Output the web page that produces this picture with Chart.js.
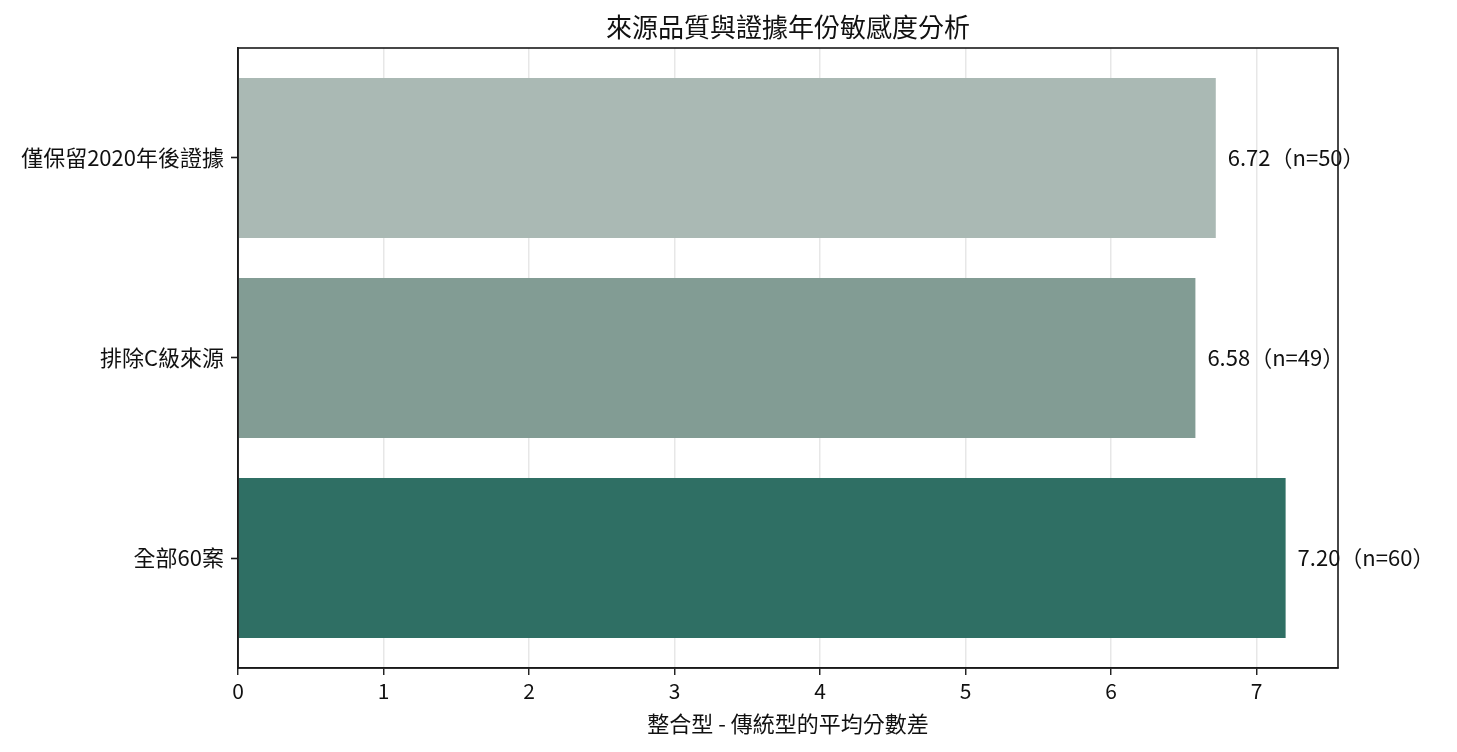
<!DOCTYPE html>
<html>
<head>
<meta charset="utf-8">
<script src="https://cdn.jsdelivr.net/npm/chart.js@4.4.1/dist/chart.umd.min.js"></script>
<style>
  html, body { margin: 0; padding: 0; background: #ffffff; }
  #wrap { width: 1457px; height: 752px; position: relative; }
</style>
</head>
<body>
<div id="wrap"><canvas id="c" width="1457" height="752"></canvas></div>
<script>
// Categories from bottom (index 0) to top
const categories = ['全部60案', '排除C級來源', '僅保留2020年後證據'];
const meanDiff = [7.20, 6.58, 6.72];
const sampleN = [60, 49, 50];
const barColors = ['#2f6f64', '#829c94', '#aab9b4'];
const xTicks = [0, 1, 2, 3, 4, 5, 6, 7];
const chartTitle = '來源品質與證據年份敏感度分析';
const xAxisTitle = '整合型 - 傳統型的平均分數差';

const FONT = '"Noto Sans CJK TC", "Noto Sans CJK SC", "Noto Sans", sans-serif';

const points = meanDiff.map((v, i) => ({ x: v, y: i }));

const valueLabels = {
  id: 'valueLabels',
  afterDraw(chart) {
    const ctx = chart.ctx;
    const meta = chart.getDatasetMeta(0);
    ctx.save();
    ctx.font = '22px ' + FONT;
    ctx.fillStyle = '#111111';
    ctx.textAlign = 'left';
    ctx.textBaseline = 'middle';
    meta.data.forEach((el, i) => {
      const txt = meanDiff[i].toFixed(2) + '（n=' + sampleN[i] + '）';
      ctx.fillText(txt, el.x + 12, el.y);
    });
    ctx.restore();
  }
};

const frameAndTitle = {
  id: 'frameAndTitle',
  afterDraw(chart) {
    const a = chart.chartArea;
    const ctx = chart.ctx;
    ctx.save();
    ctx.strokeStyle = '#1a1a1a';
    ctx.lineWidth = 1.6;
    ctx.strokeRect(a.left, a.top, a.right - a.left, a.bottom - a.top);
    ctx.font = '26px ' + FONT;
    ctx.fillStyle = '#111111';
    ctx.textAlign = 'center';
    ctx.textBaseline = 'middle';
    ctx.fillText(chartTitle, (a.left + a.right) / 2, a.top - 21);
    ctx.restore();
  }
};

new Chart(document.getElementById('c'), {
  type: 'bar',
  data: {
    datasets: [{
      data: points,
      backgroundColor: barColors,
      borderWidth: 0,
      barPercentage: 0.8,
      categoryPercentage: 1.0
    }]
  },
  options: {
    indexAxis: 'y',
    responsive: false,
    animation: false,
    devicePixelRatio: 1,
    layout: { padding: { left: 0, right: 119, top: 48, bottom: 0 } },
    plugins: {
      legend: { display: false },
      tooltip: { enabled: false },
      title: { display: false }
    },
    scales: {
      x: {
        type: 'linear',
        position: 'bottom',
        min: 0,
        max: 7.56,
        z: 1,
        afterFit(scale) { scale.height = 84; },
        afterBuildTicks(scale) { scale.ticks = xTicks.map(v => ({ value: v })); },
        ticks: {
          includeBounds: false,
          color: '#111111',
          font: { family: FONT, size: 21 },
          padding: 3,
          maxRotation: 0
        },
        grid: {
          color: 'rgba(176,176,176,0.3)',
          lineWidth: 1.5,
          drawTicks: true,
          tickLength: 7,
          tickColor: '#1a1a1a',
          tickWidth: 1.4
        },
        border: { display: true, color: '#1a1a1a', width: 1.6 },
        title: {
          display: true,
          text: xAxisTitle,
          color: '#111111',
          font: { family: FONT, size: 22 },
          padding: { top: 0, bottom: 15 }
        }
      },
      y: {
        type: 'linear',
        position: 'left',
        min: -0.55,
        max: 2.55,
        offset: false,
        afterFit(scale) { scale.width = 238; },
        afterBuildTicks(scale) { scale.ticks = categories.map((c, i) => ({ value: i })); },
        ticks: {
          color: '#111111',
          font: { family: FONT, size: 22 },
          padding: 7,
          callback: (v) => categories[v]
        },
        grid: {
          offset: false,
          drawOnChartArea: false,
          drawTicks: true,
          tickLength: 7,
          tickColor: '#1a1a1a',
          tickWidth: 1.6
        },
        border: { display: true, color: '#1a1a1a', width: 1.6 }
      }
    }
  },
  plugins: [valueLabels, frameAndTitle]
});
</script>
</body>
</html>
